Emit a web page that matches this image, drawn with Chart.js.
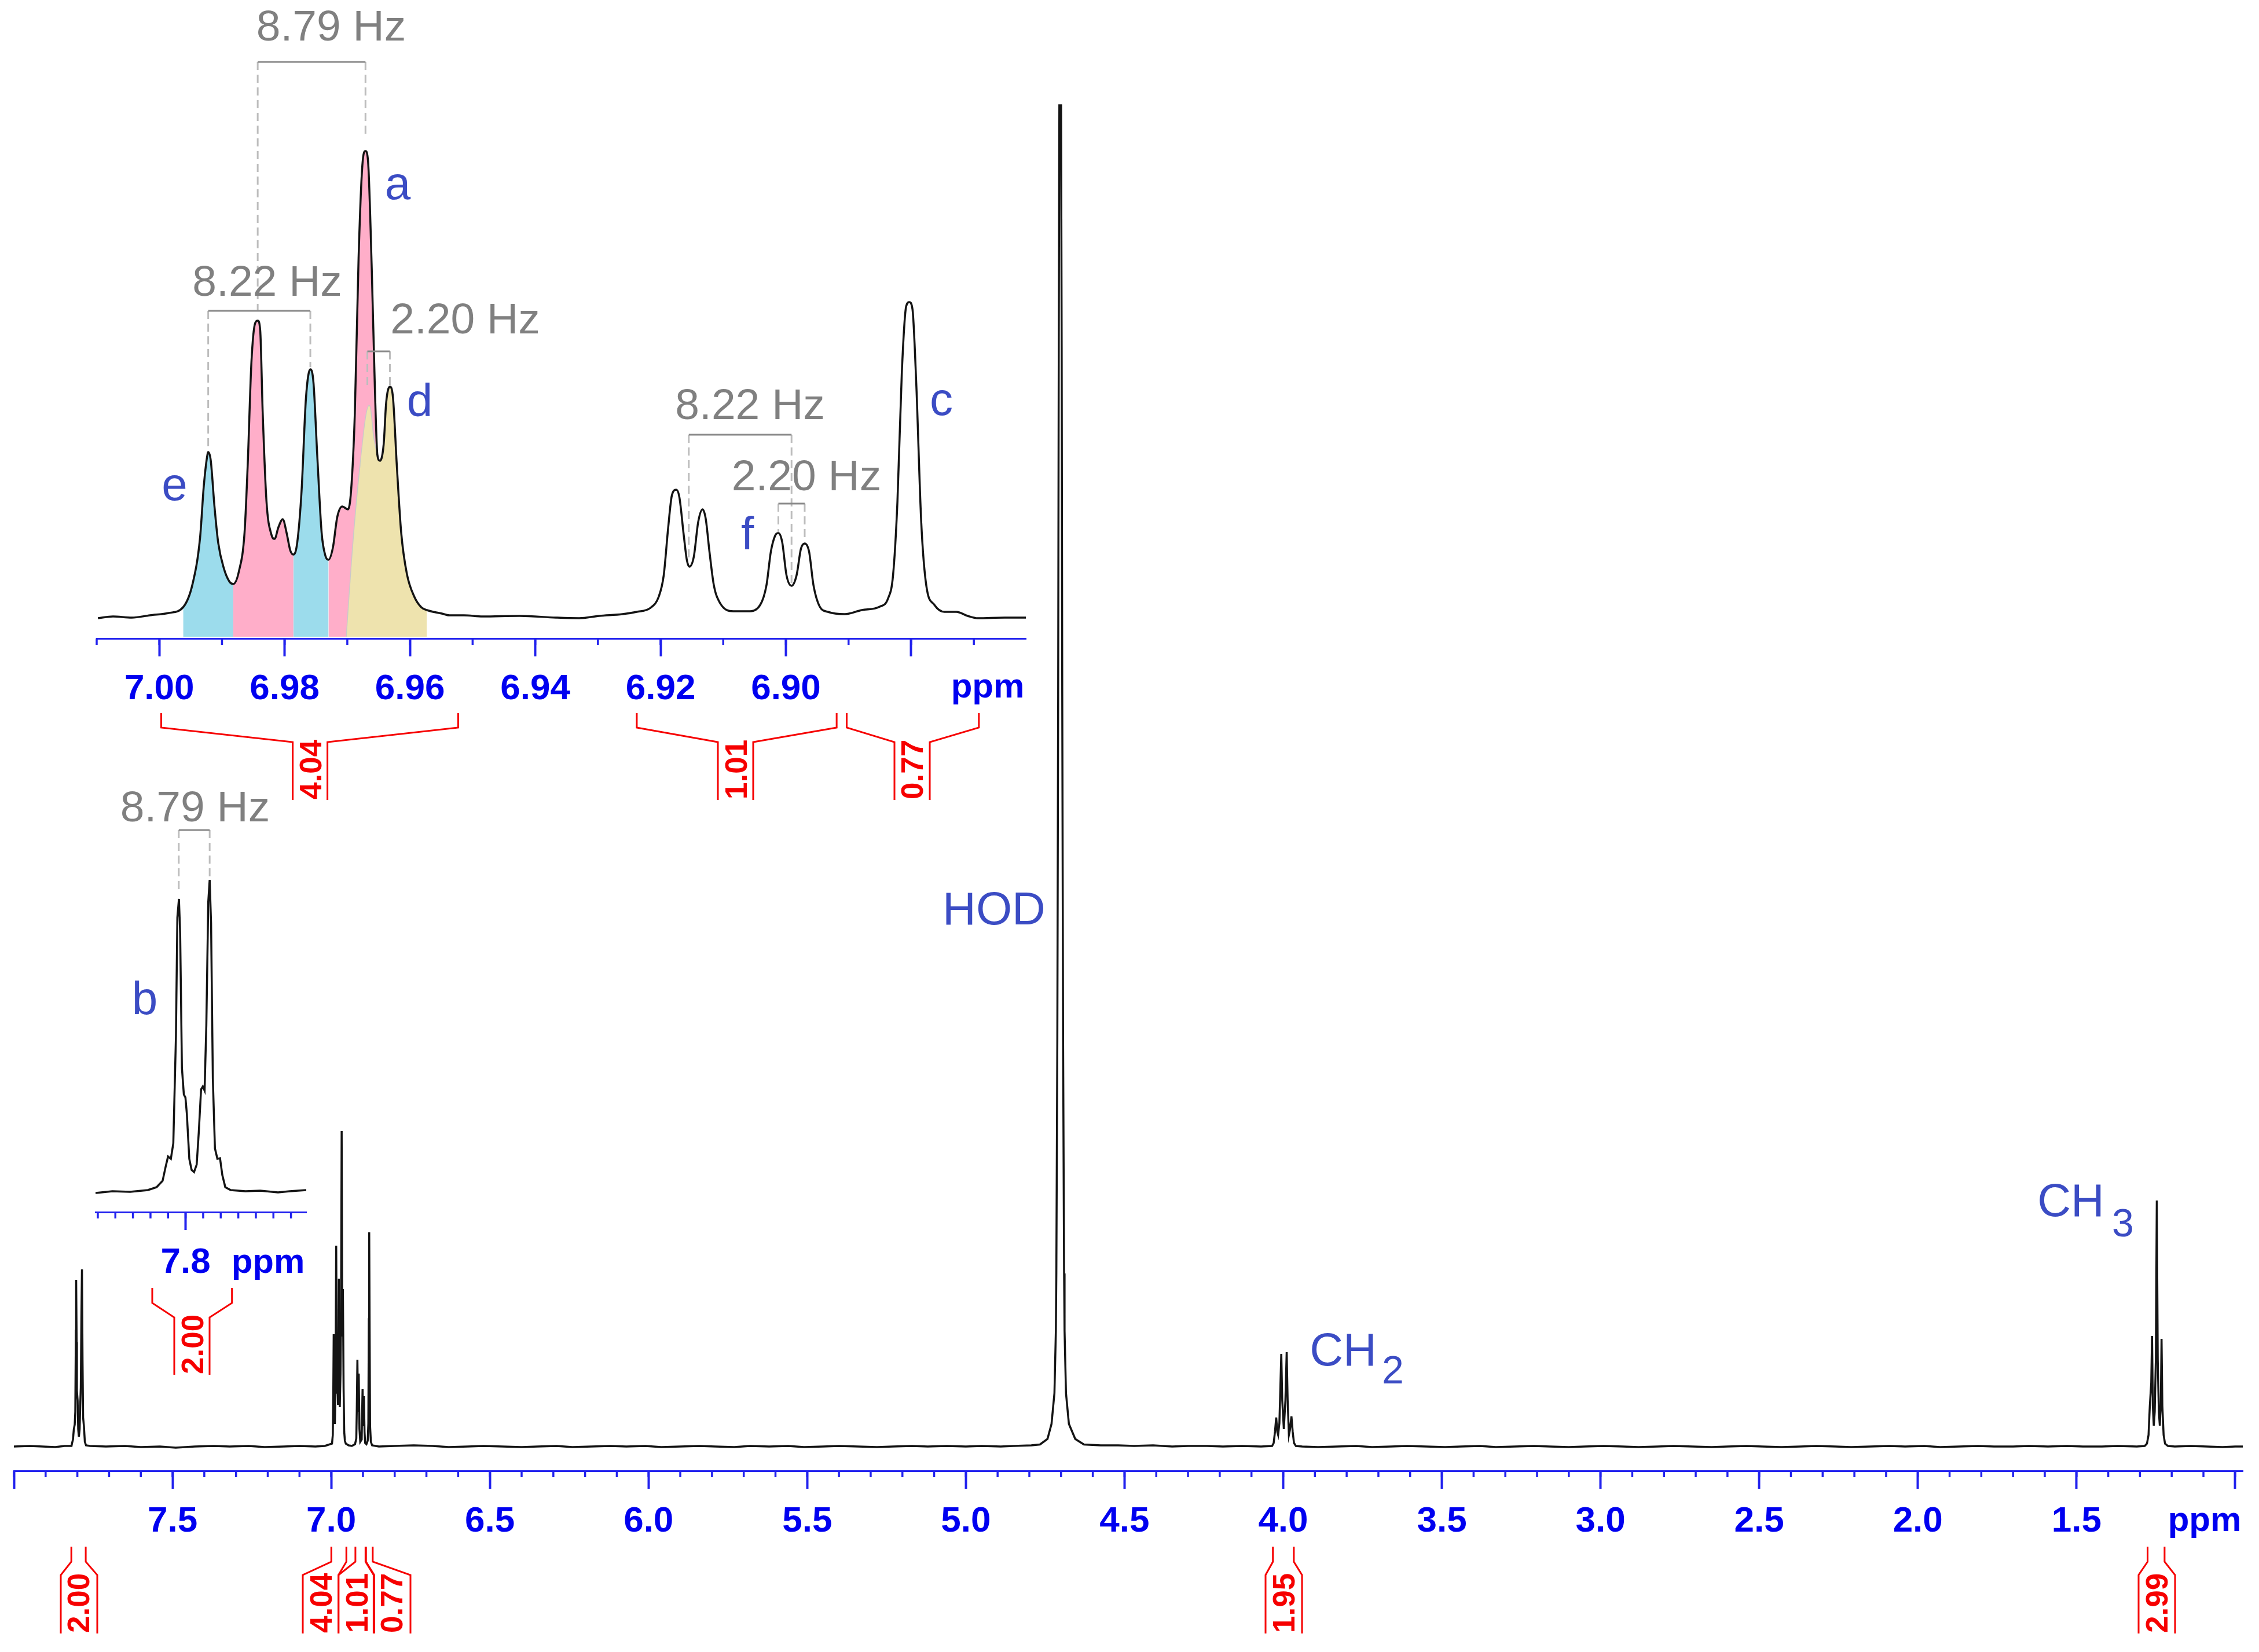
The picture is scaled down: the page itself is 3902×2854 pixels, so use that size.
<!DOCTYPE html>
<html>
<head>
<meta charset="utf-8">
<title>1H NMR spectrum</title>
<script src="https://cdn.jsdelivr.net/npm/chart.js@4"></script>
<style>
html, body { margin: 0; background: #fff; }
canvas { position: absolute; left: 0; top: 0; }
</style>
</head>
<body>
<canvas id="mainChart" width="3902" height="2854"></canvas>
<canvas id="insetB" width="3902" height="2854"></canvas>
<canvas id="insetTop" width="3902" height="2854"></canvas>
<script>
// Full spectrum as [ppm, intensity]
const baseline = [
  [8.00,0],[7.95,1],[7.91,0],[7.87,-1],[7.84,1],
  [7.76,1],[7.71,0],[7.65,1],[7.60,-1],[7.54,0],[7.49,-2],[7.43,0],[7.37,1],[7.32,0],[7.26,1],[7.21,-1],[7.15,0],[7.10,1],[7.05,0],[7.02,1],
  [6.85,0],[6.80,1],[6.74,2],[6.68,1],[6.63,-1],[6.57,0],[6.52,1],[6.46,0],[6.40,-1],[6.35,0],[6.29,1],[6.24,-1],[6.18,0],[6.12,1],[6.07,0],
  [6.01,1],[5.96,-1],[5.90,0],[5.84,1],[5.79,0],[5.73,-1],[5.68,1],[5.62,0],[5.56,1],[5.51,-1],[5.45,0],[5.40,1],[5.34,0],[5.28,-1],[5.23,0],
  [5.17,1],[5.12,0],[5.06,1],[5.00,0],[4.95,1],[4.89,0],[4.85,1],
  [4.52,2],[4.47,1],[4.41,2],[4.35,0],[4.30,1],[4.24,1],[4.19,0],[4.13,1],[4.07,0],
  [3.94,0],[3.89,-1],[3.83,0],[3.77,1],[3.72,-1],[3.66,0],[3.61,1],[3.55,0],[3.49,-1],[3.44,0],[3.38,1],[3.33,-1],[3.27,0],[3.21,1],[3.16,0],
  [3.10,-1],[3.05,0],[2.99,1],[2.93,0],[2.88,-1],[2.82,0],[2.77,1],[2.71,0],[2.65,-1],[2.60,0],[2.54,1],[2.49,0],[2.43,-1],[2.37,0],[2.32,1],
  [2.26,0],[2.21,-1],[2.15,0],[2.09,1],[2.04,0],[1.98,1],[1.93,-1],[1.87,0],[1.81,1],[1.76,0],[1.70,0],[1.65,1],[1.59,0],[1.53,1],[1.48,0],
  [1.42,0],[1.37,1],[1.31,0],
  [1.19,0],[1.14,1],[1.09,0],[1.04,-1],[1.00,0],[0.976,0]
];
const doublet78 = [
  [7.8184,1],[7.8166,6],[7.8138,12],[7.8111,30],[7.8083,38],[7.8065,60],[7.8047,200],[7.8038,288],[7.8023,180],[7.8014,96],
  [7.7992,80],[7.7974,30],[7.7952,17],[7.7928,30],[7.7910,70],[7.7892,102],[7.7873,220],[7.7855,306],[7.7837,150],[7.7819,50],
  [7.7793,35],[7.7764,8],[7.7727,2]
];
const multiplet70 = [
  [6.9975,5],[6.9950,20],[6.9935,90],[6.9922,194],[6.9905,95],[6.9885,39],[6.9865,100],[6.9843,347],[6.9825,130],[6.9815,93],
  [6.9803,112],[6.9786,72],[6.9770,150],[6.9759,290],[6.9745,120],[6.9730,68],[6.9708,125],[6.9690,230],[6.9671,545],[6.9652,190],
  [6.9632,272],[6.9610,100],[6.9590,25],[6.9570,10],[6.9540,5],[6.9450,2],[6.9350,1],[6.9250,4],[6.9210,14],[6.9195,60],
  [6.9175,150],[6.9155,60],[6.9133,126],[6.9110,30],[6.9085,8],[6.9040,12],[6.9025,60],[6.9012,99],[6.8990,35],[6.8970,87],
  [6.8950,25],[6.8930,6],[6.8890,4],[6.8850,10],[6.8830,40],[6.8815,220],[6.8803,370],[6.8790,200],[6.8775,35],[6.8750,8],[6.8710,2]
];
const hodPeak = [
  [4.8486,1],[4.7939,2],[4.7665,3.5],[4.7428,13],[4.7301,39],[4.7209,92],[4.7164,200],[4.7149,299],[4.7118,700],[4.7091,1300],
  [4.7073,1900],[4.7054,2317],[4.7000,2317],[4.6981,1900],[4.6963,1300],[4.6936,700],[4.6905,299],[4.6890,200],[4.6845,92],[4.6753,39],
  [4.6553,13],[4.6279,3.5],[4.5750,2]
];
const ch2Peak = [
  [4.035,1],[4.030,6],[4.026,25],[4.022,50],[4.0185,25],[4.016,20],[4.012,40],[4.0085,110],[4.006,160],[4.003,80],
  [3.998,30],[3.993,80],[3.989,163],[3.986,80],[3.982,20],[3.979,28],[3.974,52],[3.970,25],[3.966,6],[3.96,1]
];
const ch3Peak = [
  [1.285,1],[1.278,5],[1.273,20],[1.269,70],[1.2645,110],[1.262,191],[1.2595,70],[1.2565,36],[1.2535,60],[1.250,150],
  [1.247,425],[1.244,150],[1.2405,60],[1.2375,36],[1.2345,70],[1.232,186],[1.2295,70],[1.2255,20],[1.221,5],[1.212,1]
];

// Expanded 6.86 - 7.01 ppm region
const topCurve = [
  [7.0098,-1],[7.0074,2],[7.0044,0],[7.0015,4],[6.9985,8],[6.9962,18],[6.9947,58],[6.9935,138],[6.9929,228],[6.9923,283],
  [6.9922,286],[6.9918,272],[6.9912,192],[6.9906,129],[6.9897,85],[6.9888,62],[6.9882,58],[6.9873,80],[6.9864,147],[6.9859,263],
  [6.9853,442],[6.9847,509],[6.9843,513],[6.9839,496],[6.9835,353],[6.9829,201],[6.9821,143],[6.9816,136],[6.9810,156],[6.9803,170],
  [6.9797,147],[6.9791,116],[6.9786,109],[6.9780,129],[6.9773,219],[6.9766,379],[6.9759,429],[6.9754,406],[6.9748,281],[6.9741,147],
  [6.9735,107],[6.9730,100],[6.9723,121],[6.9716,174],[6.9708,192],[6.9699,187],[6.9694,219],[6.9688,353],[6.9682,621],[6.9676,781],
  [6.9671,806],[6.9667,790],[6.9661,603],[6.9656,397],[6.9652,281],[6.9648,271],[6.9642,299],[6.9638,371],[6.9632,399],[6.9627,379],
  [6.9621,263],[6.9614,147],[6.9605,76],[6.9593,36],[6.9582,18],[6.9573,13],[6.9549,7],[6.9537,4],[6.9514,4],[6.9484,2],
  [6.9425,3],[6.9367,0],[6.9330,-1],[6.9298,3],[6.9261,6],[6.9238,10],[6.9216,17],[6.9203,36],[6.9195,73],[6.9188,154],
  [6.9182,211],[6.9175,221],[6.9170,208],[6.9163,142],[6.9158,99],[6.9154,88],[6.9147,105],[6.9140,165],[6.9133,187],[6.9128,171],
  [6.9122,114],[6.9115,56],[6.9105,25],[6.9084,11],[6.9060,11],[6.9041,22],[6.9031,56],[6.9024,114],[6.9017,142],[6.9012,146],
  [6.9006,131],[6.8999,73],[6.8991,55],[6.8983,73],[6.8976,119],[6.8970,128],[6.8963,114],[6.8956,56],[6.8946,19],[6.8933,10],
  [6.8906,6],[6.8879,13],[6.8850,19],[6.8837,33],[6.8829,73],[6.8822,200],[6.8815,423],[6.8808,538],[6.8803,545],[6.8798,533],
  [6.8792,406],[6.8784,165],[6.8776,56],[6.8763,22],[6.8747,10],[6.8728,10],[6.8710,3],[6.8694,-1],[6.8651,0],[6.8617,0]
];
// Left flank of the shaded d component, it hides part of peak a
const dShadeFlank = [[6.9701,-33],[6.9691,121],[6.9679,263],[6.9665,366],[6.9658,308],[6.9651,277]];

// Expanded 7.8 ppm doublet
const bCurve = [
  [7.8513,-2],[7.8417,1],[7.8316,0],[7.8215,3],[7.8165,8],[7.8131,19],[7.8114,43],[7.8100,61],[7.8084,57],[7.8070,84],
  [7.8055,270],[7.8047,474],[7.8038,506],[7.8031,446],[7.8021,214],[7.8010,168],[7.8001,163],[7.7993,135],[7.7979,57],[7.7966,38],
  [7.7952,34],[7.7937,47],[7.7925,103],[7.7912,177],[7.7902,182],[7.7892,175],[7.7882,288],[7.7871,501],[7.7863,539],[7.7855,464],
  [7.7845,196],[7.7833,75],[7.7819,57],[7.7804,58],[7.7791,29],[7.7774,8],[7.7743,3],[7.7659,1],[7.7575,2],[7.7474,-1],
  [7.7407,1],[7.7312,3]
];

// Axis ticks and labels
const mainTicks = [8, 7.5, 7, 6.5, 6, 5.5, 5, 4.5, 4, 3.5, 3, 2.5, 2, 1.5, 1];
const mainTickLabels = ['', '7.5', '7.0', '6.5', '6.0', '5.5', '5.0', '4.5', '4.0', '3.5', '3.0', '2.5', '2.0', '1.5', ''];
const topTicks = [7.00, 6.98, 6.96, 6.94, 6.92, 6.90, 6.88];
const topTickLabels = ['7.00', '6.98', '6.96', '6.94', '6.92', '6.90', ''];
const bTicks = [7.8];
const bTickLabels = ['7.8'];

// Integrals: printed value and ppm limits
const integralValues = ['2.00', '4.04', '1.01', '0.77', '1.95', '2.99'];
const integralStart = [7.819, 6.9997, 6.9238, 6.8903, 4.0324, 1.276];
const integralEnd = [7.7736, 6.9523, 6.8919, 6.8692, 3.9665, 1.2225];

const BLUE_AXIS = '#2222ee';
const BLUE_TEXT = '#0000f0';
const BLUE_NOTE = '#3b4cc4';
const GREY_TEXT = '#808080';
const GREY_LINE = '#8a8a8a';
const GREY_DASH = '#bdbdbd';
const RED = '#f60000';
const LINE_BLACK = '#141414';

function points(pairs) {
    return pairs.map(function(p) { return { x: p[0], y: p[1] }; });
}

function between(pairs, from, to) {
    return pairs.filter(function(p) { return p[0] <= from && p[0] >= to; });
}

// Minor ticks, drawn on the scale the library built
function drawMinorTicks(chart, first, last, step) {
    const ctx = chart.ctx;
    const xScale = chart.scales.x;
    const top = chart.chartArea.bottom;
    ctx.strokeStyle = BLUE_AXIS;
    ctx.lineWidth = 3.5;
    const count = Math.round((first - last) / step);
    for (let i = 0; i <= count; i++) {
        const px = xScale.getPixelForValue(first - i * step);
        ctx.beginPath();
        ctx.moveTo(px, top);
        ctx.lineTo(px, top + 11);
        ctx.stroke();
    }
}

// Red integral bracket: two legs from the ppm limits to the column round the number
function drawBracket(chart, index, shape) {
    const ctx = chart.ctx;
    const xScale = chart.scales.x;
    const left = xScale.getPixelForValue(integralStart[index]);
    const right = xScale.getPixelForValue(integralEnd[index]);
    ctx.strokeStyle = RED;
    ctx.lineWidth = 3;
    ctx.beginPath();
    ctx.moveTo(left, shape.top);
    ctx.lineTo(left, shape.knee);
    ctx.lineTo(shape.inner[0], shape.slant);
    ctx.lineTo(shape.inner[0], shape.bottom);
    ctx.moveTo(right, shape.top);
    ctx.lineTo(right, shape.knee);
    ctx.lineTo(shape.inner[1], shape.slant);
    ctx.lineTo(shape.inner[1], shape.bottom);
    ctx.stroke();

    ctx.save();
    ctx.translate(shape.textX + 3, shape.bottom - 1);
    ctx.rotate(-Math.PI / 2);
    ctx.fillStyle = RED;
    ctx.font = 'bold 53px "Liberation Sans"';
    ctx.textAlign = 'left';
    ctx.textBaseline = 'middle';
    ctx.fillText(integralValues[index], 0, 0);
    ctx.restore();
}

// Coupling marker: solid cap with dashed drops to the two peaks
function drawCoupling(chart, c) {
    const ctx = chart.ctx;
    const xScale = chart.scales.x;
    const a = xScale.getPixelForValue(c.from);
    const b = xScale.getPixelForValue(c.to);
    ctx.strokeStyle = GREY_DASH;
    ctx.lineWidth = 3;
    ctx.setLineDash([14, 8]);
    ctx.beginPath();
    ctx.moveTo(a, c.y);
    ctx.lineTo(a, c.endA);
    ctx.moveTo(b, c.y);
    ctx.lineTo(b, c.endB);
    ctx.stroke();
    ctx.setLineDash([]);
    ctx.strokeStyle = GREY_LINE;
    ctx.beginPath();
    ctx.moveTo(a, c.y);
    ctx.lineTo(b, c.y);
    ctx.stroke();
    drawText(chart, c.label, c.textX, c.textY, '75px "Liberation Sans"', GREY_TEXT);
}

function drawText(chart, text, x, y, font, color) {
    const ctx = chart.ctx;
    ctx.fillStyle = color;
    ctx.font = font;
    ctx.textAlign = 'center';
    ctx.textBaseline = 'alphabetic';
    ctx.fillText(text, x, y);
}

function notesPlugin(notes) {
    return {
        id: 'notes',
        afterDraw: function(chart) {
            drawMinorTicks(chart, notes.minor[0], notes.minor[1], notes.minor[2]);
            notes.brackets.forEach(function(b) { drawBracket(chart, b.index, b); });
            notes.couplings.forEach(function(c) { drawCoupling(chart, c); });
            notes.texts.forEach(function(t) { drawText(chart, t[0], t[1], t[2], t[3], t[4]); });
        }
    };
}

// Every chart uses a full page canvas, so the plot box comes from padding and axis height
function buildChart(id, cfg) {
    return new Chart(document.getElementById(id), {
        type: 'line',
        data: { datasets: cfg.datasets },
        plugins: [notesPlugin(cfg.notes)],
        options: {
            responsive: false,
            animation: false,
            devicePixelRatio: 1,
            layout: { padding: { left: cfg.box.left, right: 3902 - cfg.box.right, top: cfg.box.top, bottom: 0 } },
            plugins: { legend: { display: false }, tooltip: { enabled: false } },
            elements: { point: { radius: 0 } },
            scales: {
                x: {
                    type: 'linear',
                    reverse: true,
                    min: cfg.xMin,
                    max: cfg.xMax,
                    afterBuildTicks: function(scale) {
                        scale.ticks = cfg.ticks.map(function(v) { return { value: v }; });
                    },
                    afterFit: function(scale) {
                        scale.height = 2854 - cfg.box.bottom;
                        scale.paddingLeft = 0;
                        scale.paddingRight = 0;
                    },
                    ticks: {
                        autoSkip: false,
                        maxRotation: 0,
                        minRotation: 0,
                        padding: 20,
                        color: BLUE_TEXT,
                        font: { family: '"Liberation Sans"', size: 62, weight: 'bold' },
                        callback: function(value, index) { return cfg.tickLabels[index]; }
                    },
                    grid: { drawOnChartArea: false, drawTicks: true, tickLength: 31, tickWidth: 4, tickColor: BLUE_AXIS },
                    border: { color: BLUE_AXIS, width: 3 }
                },
                y: { display: false, min: cfg.yMin, max: cfg.yMax }
            }
        }
    });
}

function curveDataset(pairs, width) {
    return {
        data: points(pairs),
        borderColor: LINE_BLACK,
        borderWidth: width,
        fill: false,
        order: 0
    };
}

function shade(pairs, color, order) {
    return {
        data: points(pairs),
        borderWidth: 0,
        borderColor: 'rgba(0,0,0,0)',
        backgroundColor: color,
        cubicInterpolationMode: 'monotone',
        fill: { value: -33 },
        order: order
    };
}

document.addEventListener('DOMContentLoaded', function() {
    const mainCurve = baseline.concat(doublet78, multiplet70, hodPeak, ch2Peak, ch3Peak)
        .sort(function(a, b) { return b[0] - a[0]; });

    const noteFont = '80px "Liberation Sans"';
    const subFont = '68px "Liberation Sans"';
    const unitFont = 'bold 60px "Liberation Sans"';

    const mainShape = { top: 2672, knee: 2698, slant: 2721, bottom: 2822 };
    buildChart('mainChart', {
        box: { left: 24, right: 3874, top: 170, bottom: 2541 },
        xMin: 0.976, xMax: 8.0, yMin: -42, yMax: 2329,
        ticks: mainTicks, tickLabels: mainTickLabels,
        datasets: [curveDataset(mainCurve, 3.5)],
        notes: {
            minor: [8, 1, 0.1],
            brackets: [
                Object.assign({ index: 0, inner: [105, 168], textX: 136 }, mainShape),
                Object.assign({ index: 1, inner: [523, 584.7], textX: 555 }, mainShape),
                Object.assign({ index: 2, inner: [584.7, 645.4], textX: 617 }, mainShape),
                Object.assign({ index: 3, inner: [646.4, 709], textX: 677.6 }, mainShape),
                Object.assign({ index: 4, inner: [2186, 2249], textX: 2218 }, mainShape),
                Object.assign({ index: 5, inner: [3694, 3757], textX: 3726 }, mainShape)
            ],
            couplings: [],
            texts: [
                ['ppm', 3808, 2645, unitFont, BLUE_TEXT],
                ['HOD', 1717, 1597, noteFont, BLUE_NOTE],
                ['CH', 2320, 2359, noteFont, BLUE_NOTE],
                ['2', 2406, 2390, subFont, BLUE_NOTE],
                ['CH', 3577, 2101, noteFont, BLUE_NOTE],
                ['3', 3667, 2136, subFont, BLUE_NOTE]
            ]
        }
    });

    buildChart('insetB', {
        box: { left: 165, right: 529, top: 1500, bottom: 2094 },
        xMin: 7.7313, xMax: 7.8513, yMin: -35, yMax: 559,
        ticks: bTicks, tickLabels: bTickLabels,
        datasets: [curveDataset(bCurve, 3.5)],
        notes: {
            minor: [7.85, 7.74, 0.01],
            brackets: [
                { index: 0, top: 2225, knee: 2251, slant: 2276, bottom: 2375, inner: [301, 362], textX: 333 }
            ],
            couplings: [
                { from: 7.8039, to: 7.7863, y: 1434, endA: 1539, endB: 1516, label: '8.79 Hz', textX: 337, textY: 1419 }
            ],
            texts: [
                ['ppm', 463, 2199, unitFont, BLUE_TEXT],
                ['b', 250, 1752, noteFont, BLUE_NOTE]
            ]
        }
    });

    const blue = '#9cdcec';
    const pink = '#ffaec9';
    const tan = '#eee3ae';
    const topShape = { top: 1232, knee: 1257, slant: 1282, bottom: 1382 };
    buildChart('insetTop', {
        box: { left: 167, right: 1772, top: 30, bottom: 1103 },
        xMin: 6.8617, xMax: 7.01, yMin: -36, yMax: 1037,
        ticks: topTicks, tickLabels: topTickLabels,
        datasets: [
            Object.assign(curveDataset(topCurve, 3.5), { cubicInterpolationMode: 'monotone' }),
            shade(dShadeFlank.concat(between(topCurve, 6.9648, 6.9573)), tan, 1),
            {
                data: points(dShadeFlank),
                borderColor: '#c9c9c9',
                borderWidth: 3,
                fill: false,
                cubicInterpolationMode: 'monotone',
                order: 1
            },
            shade(between(topCurve, 6.9962, 6.9882), blue, 2),
            shade(between(topCurve, 6.9882, 6.9786), pink, 2),
            shade(between(topCurve, 6.9786, 6.9730), blue, 2),
            shade(between(topCurve, 6.9730, 6.9648), pink, 2)
        ],
        notes: {
            minor: [7.01, 6.87, 0.01],
            brackets: [
                Object.assign({ index: 1, inner: [505.6, 565.6], textX: 537.5 }, topShape),
                Object.assign({ index: 2, inner: [1240, 1301], textX: 1272.6 }, topShape),
                Object.assign({ index: 3, inner: [1545, 1606], textX: 1576 }, topShape)
            ],
            couplings: [
                { from: 6.9843, to: 6.9671, y: 107, endA: 536, endB: 237, label: '8.79 Hz', textX: 572, textY: 70 },
                { from: 6.9922, to: 6.9759, y: 537, endA: 772, endB: 634, label: '8.22 Hz', textX: 461.6, textY: 511 },
                { from: 6.9668, to: 6.9632, y: 607, endA: 670, endB: 665, label: '2.20 Hz', textX: 803.5, textY: 576 },
                { from: 6.9155, to: 6.8991, y: 751, endA: 968, endB: 1011, label: '8.22 Hz', textX: 1295.6, textY: 724 },
                { from: 6.9012, to: 6.8970, y: 870, endA: 919, endB: 937, label: '2.20 Hz', textX: 1393, textY: 847 }
            ],
            texts: [
                ['ppm', 1706, 1205, unitFont, BLUE_TEXT],
                ['a', 687, 344, noteFont, BLUE_NOTE],
                ['d', 725, 719, noteFont, BLUE_NOTE],
                ['e', 301.5, 864, noteFont, BLUE_NOTE],
                ['f', 1291, 949, noteFont, BLUE_NOTE],
                ['c', 1626, 717, noteFont, BLUE_NOTE]
            ]
        }
    });
});
</script>
</body>
</html>
